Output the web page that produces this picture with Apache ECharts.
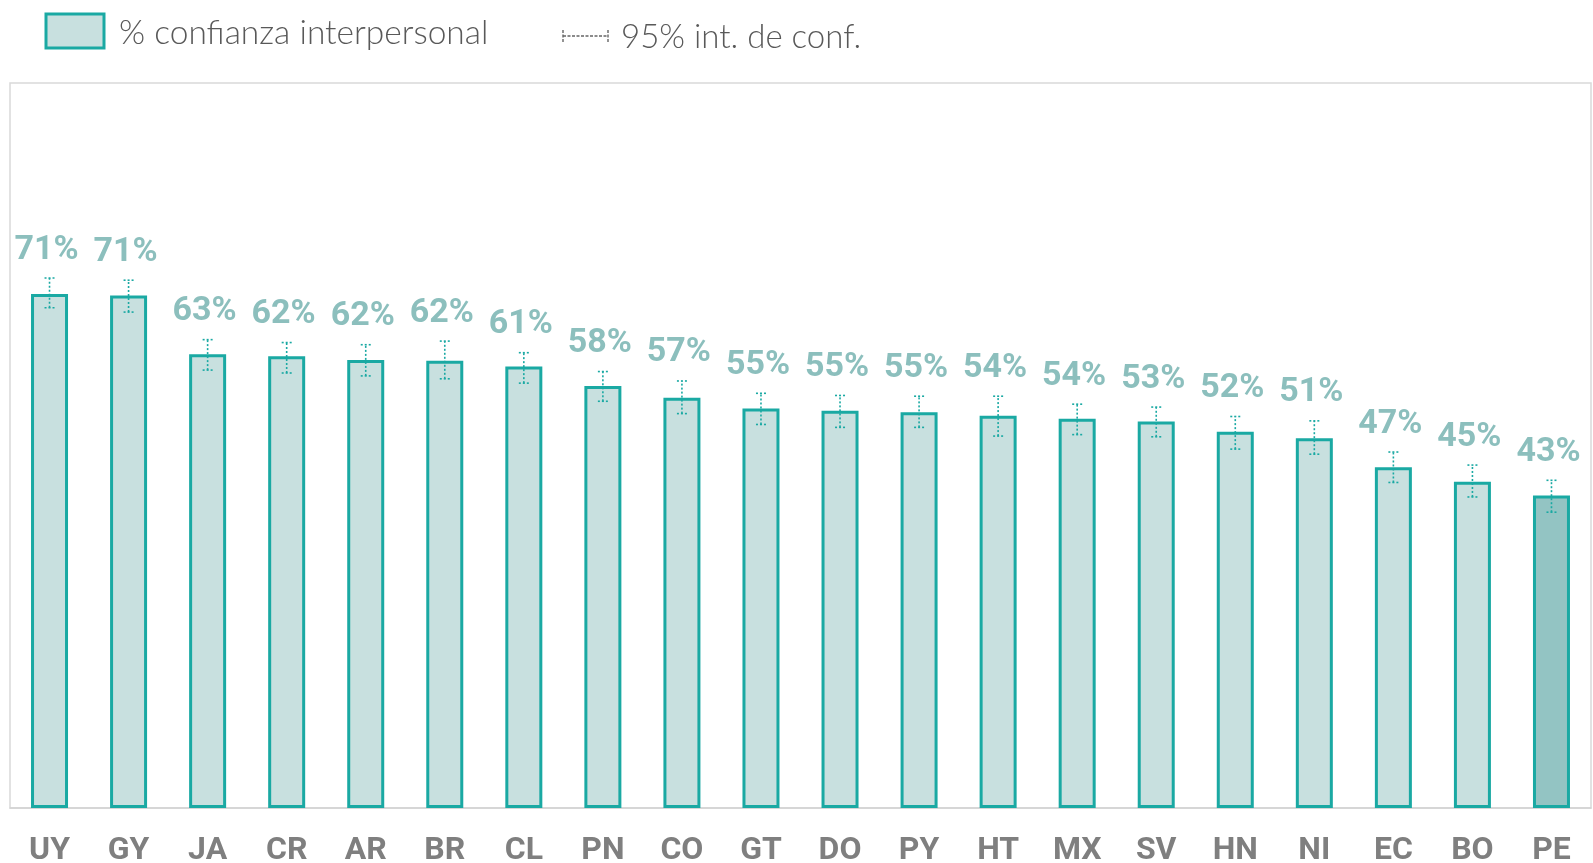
<!DOCTYPE html>
<html>
<head>
<meta charset="utf-8">
<script src="https://cdn.jsdelivr.net/npm/echarts@6/dist/echarts.min.js"></script>
<style>
  html, body { margin: 0; padding: 0; background: #fff; }
  #chart { width: 1593px; height: 863px; }
</style>
</head>
<body>
<div id="chart"></div>
<script>
// countries, ordered as in the figure
const categories = ['UY', 'GY', 'JA', 'CR', 'AR', 'BR', 'CL', 'PN', 'CO', 'GT',
  'DO', 'PY', 'HT', 'MX', 'SV', 'HN', 'NI', 'EC', 'BO', 'PE']
// % confianza interpersonal
const values = [70.9, 70.7, 62.6, 62.3, 61.8, 61.7, 60.9, 58.2, 56.6, 55.1,
  54.8, 54.6, 54.1, 53.7, 53.3, 51.9, 51.0, 47.0, 45.0, 43.1]
// 95% int. de conf.
const ciLow = [69.0, 68.4, 60.4, 60.0, 59.6, 59.2, 58.6, 56.1, 54.4, 52.9,
  52.5, 52.5, 51.3, 51.5, 51.2, 49.5, 48.8, 44.9, 42.9, 40.8]
const ciHigh = [73.1, 72.8, 64.6, 64.2, 63.9, 64.4, 62.8, 60.2, 58.9, 57.2,
  56.9, 56.8, 56.8, 55.7, 55.3, 54.0, 53.4, 49.1, 47.3, 45.2]
const highlight = 'PE'

const teal = '#1aa9a3'
const fill = '#c8e0df'
const fillDark = '#93c4c3'
const labelColor = '#8cbfbd'

const chart = echarts.init(document.getElementById('chart'))

chart.setOption({
  animation: false,
  grid: {
    left: 10,
    right: 2,
    top: 83,
    bottom: 55,
    outerBoundsMode: 'none',
    show: true,
    borderColor: '#d9d9d9',
    borderWidth: 1.5
  },
  graphic: [
    {
      type: 'rect',
      shape: { x: 46, y: 14, width: 58, height: 34 },
      style: { fill: fill, stroke: teal, lineWidth: 3 }
    },
    {
      type: 'text',
      x: 119, y: 33,
      style: {
        text: '% confianza interpersonal',
        fill: '#595959',
        font: '300 33.5px Lato',
        verticalAlign: 'middle'
      }
    },
    {
      type: 'group',
      children: [
        { type: 'line', shape: { x1: 563, y1: 36, x2: 608, y2: 36 },
          style: { stroke: '#666', lineWidth: 1.4, lineDash: [3, 1.5] } },
        { type: 'line', shape: { x1: 563, y1: 30, x2: 563, y2: 42 },
          style: { stroke: '#666', lineWidth: 1.4, lineDash: [3, 1.5] } },
        { type: 'line', shape: { x1: 608, y1: 30, x2: 608, y2: 42 },
          style: { stroke: '#666', lineWidth: 1.4, lineDash: [3, 1.5] } }
      ]
    },
    {
      type: 'text',
      x: 621, y: 37,
      style: {
        text: '95% int. de conf.',
        fill: '#595959',
        font: '300 33px Lato',
        verticalAlign: 'middle'
      }
    }
  ],
  xAxis: {
    type: 'category',
    data: categories,
    axisLine: { lineStyle: { color: '#d4d4d4', width: 1.5 } },
    axisTick: { show: false },
    axisLabel: {
      color: '#7f7f7f',
      fontFamily: 'Roboto',
      fontWeight: 'bold',
      fontSize: 32,
      margin: 27
    }
  },
  yAxis: {
    type: 'value',
    min: 0,
    max: 100,
    show: false,
    splitLine: { show: false }
  },
  series: [
    {
      type: 'bar',
      barWidth: 37,
      data: values.map((v, i) => ({
        value: v,
        itemStyle: { color: categories[i] === highlight ? fillDark : fill }
      })),
      itemStyle: { borderColor: teal, borderWidth: 3 }
    },
    {
      type: 'custom',
      data: categories.map((c, i) => [i, ciLow[i], ciHigh[i], values[i]]),
      encode: { x: 0, y: [1, 2] },
      z: 5,
      renderItem(params, api) {
        const lo = api.coord([api.value(0), api.value(1)])
        const hi = api.coord([api.value(0), api.value(2)])
        const cap = 5
        const dash = { stroke: teal, lineWidth: 1.6, lineDash: [2, 2] }
        return {
          type: 'group',
          children: [
            { type: 'line', shape: { x1: lo[0], y1: lo[1], x2: hi[0], y2: hi[1] }, style: dash },
            { type: 'line', shape: { x1: lo[0] - cap, y1: lo[1], x2: lo[0] + cap, y2: lo[1] }, style: dash },
            { type: 'line', shape: { x1: hi[0] - cap, y1: hi[1], x2: hi[0] + cap, y2: hi[1] }, style: dash },
            {
              type: 'text',
              x: hi[0] - 3,
              y: hi[1] - 28,
              style: {
                text: Math.round(api.value(3)) + '%',
                fill: labelColor,
                fontFamily: 'Roboto',
                fontWeight: 'bold',
                fontSize: 34,
                align: 'center',
                verticalAlign: 'middle'
              }
            }
          ]
        }
      }
    }
  ]
})
</script>
</body>
</html>
